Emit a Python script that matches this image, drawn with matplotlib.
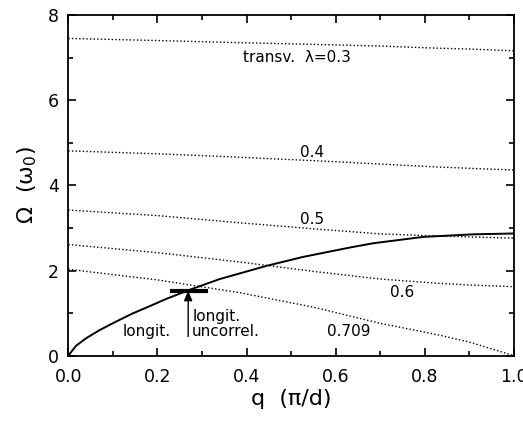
import numpy as np
import matplotlib.pyplot as plt
from matplotlib.ticker import MultipleLocator

# longitudinal mode (solid)
q_long = [0, 0.017, 0.04, 0.07, 0.107, 0.144, 0.182, 0.219, 0.273, 0.34,
          0.445, 0.527, 0.632, 0.684, 0.797, 0.909, 1.0]
om_long = [0, 0.23, 0.41, 0.60, 0.80, 0.99, 1.16, 1.33, 1.55, 1.80,
           2.11, 2.32, 2.54, 2.64, 2.79, 2.85, 2.87]

# transverse modes (dotted), one per lambda
q_tr = [0, 0.2, 0.385, 0.55, 0.7, 0.83, 0.9, 1.0]
om_03 = [7.45, 7.40, 7.35, 7.31, 7.27, 7.22, 7.20, 7.16]
om_04 = [4.81, 4.74, 4.66, 4.58, 4.50, 4.43, 4.40, 4.36]
om_05 = [3.42, 3.29, 3.12, 2.98, 2.86, 2.81, 2.79, 2.76]
om_06 = [2.61, 2.42, 2.20, 1.98, 1.80, 1.70, 1.66, 1.62]
om_0709 = [2.03, 1.78, 1.48, 1.14, 0.76, 0.49, 0.32, 0.0]
lam_labels = ['transv.  λ=0.3', '0.4', '0.5', '0.6', '0.709']

# uncorrelated longitudinal marker
q_unc = 0.269
om_unc = 1.53

plt.rcParams['font.family'] = 'DejaVu Sans'
fig = plt.figure(figsize=(5.23, 4.21), dpi=100)
ax = fig.add_axes([0.1306, 0.1551, 0.852, 0.8093])

ax.plot(q_long, om_long, color='black', lw=1.4)
for om in [om_03, om_04, om_05, om_06, om_0709]:
    ax.plot(q_tr, om, color='black', lw=1.0, linestyle=(0, (1, 1.6)))

# labels on the curves
fs = 11
ax.text(0.392, 7.01, lam_labels[0], fontsize=fs, va='center')
ax.text(0.52, 4.77, lam_labels[1], fontsize=fs, va='center')
ax.text(0.52, 3.19, lam_labels[2], fontsize=fs, va='center')
ax.text(0.722, 1.49, lam_labels[3], fontsize=fs, va='center')
ax.text(0.58, 0.58, lam_labels[4], fontsize=fs, va='center')
ax.text(0.123, 0.58, 'longit.', fontsize=fs, va='center')
ax.text(0.278, 0.91, 'longit.', fontsize=fs, va='center')
ax.text(0.278, 0.58, 'uncorrel.', fontsize=fs, va='center')

ax.plot([0.228, 0.314], [om_unc, om_unc], color='black', lw=3, solid_capstyle='butt')
ax.annotate('', xy=(q_unc, om_unc), xytext=(q_unc, 0.45),
            arrowprops=dict(arrowstyle='-|>,head_length=0.6,head_width=0.25',
                            color='black', lw=1.0, shrinkA=0, shrinkB=0))

ax.set_xlim(0, 1)
ax.set_ylim(0, 8)
ax.xaxis.set_minor_locator(MultipleLocator(0.1))
ax.yaxis.set_minor_locator(MultipleLocator(1))
ax.set_xticks([0, 0.2, 0.4, 0.6, 0.8, 1.0])
ax.set_xticklabels(['0.0', '0.2', '0.4', '0.6', '0.8', '1.0'])
ax.set_yticks([0, 2, 4, 6, 8])
ax.set_yticklabels(['0', '2', '4', '6', '8'])
ax.tick_params(which='both', direction='in', top=True, right=True, width=1.2, labelsize=12.5)
ax.tick_params(which='major', length=6)
ax.tick_params(which='minor', length=3.5)
ax.tick_params(axis='x', pad=9)
ax.tick_params(axis='y', pad=7)
for s in ax.spines.values():
    s.set_linewidth(1.3)

ax.set_xlabel('q  (π/d)', fontsize=16, labelpad=2)
ax.set_ylabel('Ω  (ω$_0$)', fontsize=16, labelpad=6)

fig.savefig('out.png', dpi=100)
